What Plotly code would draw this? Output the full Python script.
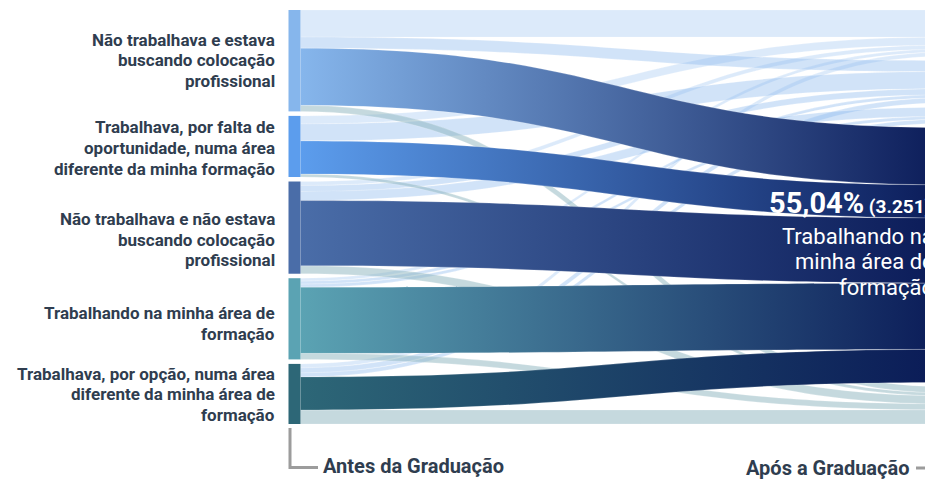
import json
import plotly.graph_objects as go

# ---------------- data ----------------
before_labels = [
    "Não trabalhava e estava\nbuscando colocação\nprofissional",
    "Trabalhava, por falta de\noportunidade, numa área\ndiferente da minha formação",
    "Não trabalhava e não estava\nbuscando colocação\nprofissional",
    "Trabalhando na minha área de\nformação",
    "Trabalhava, por opção, numa área\ndiferente da minha área de\nformação",
]
after_labels = [
    "Não trabalhando e buscando colocação profissional",
    "Trabalhando, por falta de oportunidade, numa área diferente da minha formação",
    "Não trabalhando e não buscando colocação profissional",
    "Trabalhando na\nminha área de\nformação",
    "Trabalhando, por opção, numa área diferente da minha área de formação",
]
# flows from each "before" category (same order as before_labels) into each "after" category
flow_to_after1 = [346, 102, 51, 38, 51]
flow_to_after2 = [141, 218, 77, 38, 64]
flow_to_after3 = [0, 0, 115, 38, 51]
flow_to_after4 = [730, 422, 832, 845, 422]
flow_to_after5 = [77, 38, 102, 77, 179]

main_pct = "55,04%"
main_count = "(3.251)"
axis_left = "Antes da Graduação"
axis_right = "Após a Graduação"

before_colors = ["#86b6ec", "#5c9ded", "#4a6da8", "#5ba3b3", "#2d6777"]
after_colors = ["#a9c9f2", "#8db7ee", "#7aa6e3", "#0a1a57", "#b4c9cf"]
link_light = ["rgba(150,190,240,0.33)", "rgba(140,185,238,0.40)",
              "rgba(140,185,238,0.40)", None, "rgba(140,180,190,0.50)"]
main_idx = 3

# ---------------- layout geometry ----------------
W, H = 925, 479
top_px, bot_px = 10, 424
pad = 4.5
thick = 12
left_cx, right_cx = 294.5, 956

flows = [flow_to_after1, flow_to_after2, flow_to_after3, flow_to_after4, flow_to_after5]
n = len(before_labels)
src, tgt, val, col, grads = [], [], [], [], {}
# light links first, main links on top
for t in range(5):
    if t == main_idx:
        continue
    for s in range(n):
        if flows[t][s] > 0:
            src.append(s); tgt.append(n + t); val.append(flows[t][s]); col.append(link_light[t])
for s in range(n):
    v = flows[main_idx][s]
    if v > 0:
        grads[len(src)] = [before_colors[s], after_colors[main_idx]]
        src.append(s); tgt.append(n + main_idx); val.append(v); col.append("rgba(40,70,140,0.95)")

total = sum(val)
dom_h = bot_px - top_px
ky = (dom_h - (n - 1) * pad) / total


def centers(sizes):
    out, y = [], 0.0
    for sz in sizes:
        h = sz * ky
        out.append((y + h / 2) / dom_h)
        y += h + pad
    return out


left_sizes = [sum(f[s] for f in flows) for s in range(n)]
right_sizes = [sum(f) for f in flows]
node_y = centers(left_sizes) + centers(right_sizes)
node_x = [left_cx / W] * n + [right_cx / W] * 5
node_names = [l.replace("\n", " ") for l in before_labels + after_labels]

fig = go.Figure(go.Sankey(
    arrangement="fixed",
    domain=dict(x=[0, 1], y=[1 - bot_px / H, 1 - top_px / H]),
    node=dict(
        label=[""] * len(node_names),
        customdata=node_names,
        hovertemplate="%{customdata}<extra></extra>",
        color=before_colors + after_colors,
        x=node_x, y=node_y,
        pad=pad, thickness=thick,
        line=dict(width=0),
    ),
    link=dict(source=src, target=tgt, value=val, color=col,
              line=dict(color="rgba(255,255,255,0.5)", width=0.4)),
))

FONT = "Roboto"
TXT = "#2f3d4f"
label_cy = [60.5, 148, 239.5, 323.5, 394]
line_gap = 20.5
ann = []
for lab, cy in zip(before_labels, label_cy):
    lines = lab.split("\n")
    for k, ln in enumerate(lines):
        y = cy + (k - (len(lines) - 1) / 2) * line_gap
        ann.append(dict(x=277 / W, y=1 - y / H, xref="paper", yref="paper",
                        xanchor="right", yanchor="middle", showarrow=False,
                        text=ln, font=dict(family=FONT, size=17, color=TXT, weight=700)))

ann.append(dict(x=933 / W, y=1 - 203 / H, xref="paper", yref="paper", xanchor="right", yanchor="middle",
                showarrow=False, font=dict(family=FONT, size=29, color="white", weight=700),
                text=f"{main_pct}<span style='font-size:19px'> {main_count}</span>"))
main_lines = after_labels[main_idx].split("\n")
for k, ln in enumerate(main_lines):
    y = 261.5 + (k - (len(main_lines) - 1) / 2) * 25.5
    ann.append(dict(x=936 / W, y=1 - y / H, xref="paper", yref="paper", xanchor="right", yanchor="middle",
                    showarrow=False, font=dict(family=FONT, size=22, color="white"), text=ln))
ann.append(dict(x=321 / W, y=1 - 466 / H, xref="paper", yref="paper", xanchor="left", yanchor="middle",
                showarrow=False, text=axis_left,
                font=dict(family=FONT, size=20, color=TXT, weight=700)))
ann.append(dict(x=912 / W, y=1 - 468 / H, xref="paper", yref="paper", xanchor="right", yanchor="middle",
                showarrow=False, text=axis_right,
                font=dict(family=FONT, size=20, color=TXT, weight=700)))

gray = "#9c9c9c"
shapes = [
    dict(type="path", xref="paper", yref="paper",
         path=f"M {290/W} {1-428/H} L {290/W} {1-467.5/H} L {318/W} {1-467.5/H}",
         line=dict(color=gray, width=3)),
    dict(type="path", xref="paper", yref="paper",
         path=f"M {916/W} {1-468/H} L {960/W} {1-468/H} L {960/W} {1-428/H}",
         line=dict(color=gray, width=3)),
]

fig.update_layout(width=W, height=H, margin=dict(l=0, r=0, t=0, b=0),
                  paper_bgcolor="white", plot_bgcolor="white",
                  annotations=ann, shapes=shapes, font=dict(family=FONT))

post = """
document.body.style.margin='0';
document.body.style.overflow='hidden';
var gd = document.getElementById('{plot_id}');
var grads = GRADS;
var ns = 'http://www.w3.org/2000/svg';
function applyGrad(){
  var svg = gd.querySelector('svg.main-svg');
  if(!svg) return;
  var defs = svg.querySelector('defs');
  if(!defs){ defs = document.createElementNS(ns,'defs'); svg.insertBefore(defs, svg.firstChild); }
  var paths = gd.querySelectorAll('path.sankey-link');
  paths.forEach(function(p, k){
    var d = p.__data__;
    var i = (d && d.pointNumber != null) ? d.pointNumber : k;
    var g = grads[i];
    if(!g) return;
    var id = 'lnkgrad' + i;
    if(!document.getElementById(id)){
      var lg = document.createElementNS(ns,'linearGradient');
      lg.setAttribute('id', id);
      lg.setAttribute('x1','0'); lg.setAttribute('y1','0');
      lg.setAttribute('x2','1'); lg.setAttribute('y2','0');
      var s0 = document.createElementNS(ns,'stop'); s0.setAttribute('offset','0'); s0.setAttribute('stop-color', g[0]);
      var s1 = document.createElementNS(ns,'stop'); s1.setAttribute('offset','1'); s1.setAttribute('stop-color', g[1]);
      lg.appendChild(s0); lg.appendChild(s1); defs.appendChild(lg);
    }
    p.style.fill = 'url(#' + id + ')';
    p.style.fillOpacity = '1';
  });
}
applyGrad();
if(gd.on) gd.on('plotly_afterplot', applyGrad);
""".replace("GRADS", json.dumps(grads))

fig.write_html("out.html", post_script=post, config={"displayModeBar": False})
